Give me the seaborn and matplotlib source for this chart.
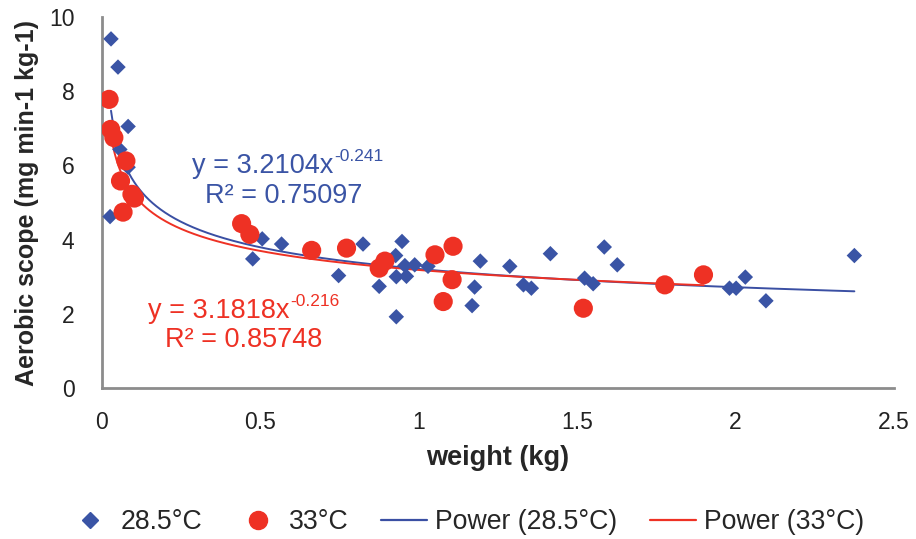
import numpy as np
import pandas as pd
import matplotlib
matplotlib.use("Agg")
import matplotlib.pyplot as plt
import seaborn as sns
from matplotlib.lines import Line2D

# ---- data ----
w_285 = [0.030, 0.052, 0.084, 0.058, 0.084, 0.027,
         0.507, 0.477, 0.568, 0.748, 0.825, 0.948, 0.876, 0.928, 0.930, 0.962,
         0.930, 0.957, 0.988, 1.030, 1.195, 1.177, 1.169, 1.288, 1.331, 1.356,
         1.416, 1.586, 1.627, 1.524, 1.551, 1.981, 2.002, 2.031, 2.096, 2.375]
as_285 = [9.41, 8.65, 7.05, 6.43, 5.95, 4.62,
          4.02, 3.48, 3.88, 3.03, 3.88, 3.95, 2.74, 3.57, 3.00, 3.01,
          1.92, 3.30, 3.32, 3.28, 3.42, 2.72, 2.22, 3.28, 2.78, 2.69,
          3.62, 3.80, 3.32, 2.96, 2.81, 2.69, 2.69, 2.99, 2.35, 3.57]

w_33 = [0.024, 0.029, 0.039, 0.077, 0.060, 0.104, 0.096, 0.068,
        0.442, 0.468, 0.663, 0.773, 0.894, 0.876, 1.052, 1.109, 1.106, 1.078,
        1.520, 1.777, 1.899]
as_33 = [7.78, 6.97, 6.75, 6.12, 5.58, 5.12, 5.22, 4.74,
         4.43, 4.14, 3.71, 3.77, 3.42, 3.23, 3.59, 3.82, 2.92, 2.33,
         2.15, 2.78, 3.05]

# power-fit parameters shown on the chart
fit_a = {"28.5°C": 3.2104, "33°C": 3.1818}
fit_b = {"28.5°C": -0.241, "33°C": -0.216}
fit_range = {"28.5°C": (0.030, 2.375), "33°C": (0.024, 1.90)}
eq_main = {"28.5°C": "y = 3.2104x", "33°C": "y = 3.1818x"}
eq_exp = {"28.5°C": "-0.241", "33°C": "-0.216"}
r2 = {"28.5°C": "R² = 0.75097", "33°C": "R² = 0.85748"}

xticks = [0, 0.5, 1, 1.5, 2, 2.5]
xticklabels = ["0", "0.5", "1", "1.5", "2", "2.5"]
yticks = [0, 2, 4, 6, 8, 10]

blue = "#3A54A5"
red = "#EE3124"
line_blue = "#3A4FA3"

# ---- build tables ----
pts = pd.DataFrame({
    "weight": w_285 + w_33,
    "scope": as_285 + as_33,
    "temp": ["28.5°C"] * len(w_285) + ["33°C"] * len(w_33),
})
curves = []
for t in ["28.5°C", "33°C"]:
    xs = np.geomspace(*fit_range[t], 300)
    curves.append(pd.DataFrame({"weight": xs,
                                "scope": fit_a[t] * xs ** fit_b[t],
                                "fit": "Power (" + t + ")"}))
curves = pd.concat(curves, ignore_index=True)

# ---- style ----
sns.set_theme(style="white")
plt.rcParams["font.family"] = ["Liberation Sans", "DejaVu Sans"]

fig = plt.figure(figsize=(9.16, 5.39), dpi=100)
ax = fig.add_axes([101.5 / 916, 1 - 388 / 539, (894 - 101.5) / 916, (388 - 17) / 539])

sns.lineplot(data=curves, x="weight", y="scope", hue="fit",
             palette={"Power (28.5°C)": line_blue, "Power (33°C)": red},
             linewidth=1.4, ax=ax, legend=False, sort=False, estimator=None)
sns.scatterplot(data=pts[pts.temp == "28.5°C"], x="weight", y="scope",
                color=blue, marker="D", s=62, edgecolor="none", ax=ax,
                legend=False, zorder=3)
sns.scatterplot(data=pts[pts.temp == "33°C"], x="weight", y="scope",
                color=red, marker="o", s=190, edgecolor="none", ax=ax,
                legend=False, zorder=3)

ax.set_xlim(0, 2.5)
ax.set_ylim(0, 10)
ax.set_xticks(xticks)
ax.set_xticklabels(xticklabels)
ax.set_yticks(yticks)
ax.tick_params(axis="both", labelsize=16.5, labelcolor="#222222", length=5.5,
               width=1.3, direction="out", color="#8c8c8c")
ax.tick_params(axis="x", pad=11)
ax.tick_params(axis="y", pad=14)
for s in ["top", "right"]:
    ax.spines[s].set_visible(False)
for s in ["left", "bottom"]:
    ax.spines[s].set_color("#8c8c8c")
    ax.spines[s].set_linewidth(2)

ax.set_xlabel("weight (kg)", fontsize=19.5, fontweight="bold", labelpad=8)
ax.set_ylabel("Aerobic scope (mg min-1 kg-1)", fontsize=18,
              fontweight="bold", labelpad=7)

# equations and R² labels
eq_pos = {"28.5°C": (0.2853, 5.80), "33°C": (0.1466, 1.89)}
r2_pos = {"28.5°C": (0.326, 4.99), "33°C": (0.2002, 1.105)}
colors = {"28.5°C": blue, "33°C": red}
for t in ["28.5°C", "33°C"]:
    main = ax.text(*eq_pos[t], eq_main[t], color=colors[t], fontsize=19.5,
                   ha="left", va="baseline")
    ax.annotate(eq_exp[t], xy=(1, 1), xycoords=main, xytext=(0.5, 2.5),
                textcoords="offset points", color=colors[t], fontsize=12.5,
                ha="left", va="top")
    ax.text(*r2_pos[t], r2[t], color=colors[t], fontsize=19.5,
            ha="left", va="baseline")

handles = [
    Line2D([], [], marker="D", color=blue, linestyle="none", markersize=8),
    Line2D([], [], marker="o", color=red, linestyle="none", markersize=13),
    Line2D([], [], color=line_blue, linewidth=1.6),
    Line2D([], [], color=red, linewidth=1.6),
]
labels = ["28.5°C", "33°C", "Power (28.5°C)", "Power (33°C)"]
fig.legend(handles, labels, loc="center", bbox_to_anchor=(0.508, 1 - 522 / 539),
           ncol=4, frameon=False, fontsize=19.2, handlelength=1.75,
           handletextpad=0.3, columnspacing=1.2)

fig.savefig("out.png", dpi=100)
